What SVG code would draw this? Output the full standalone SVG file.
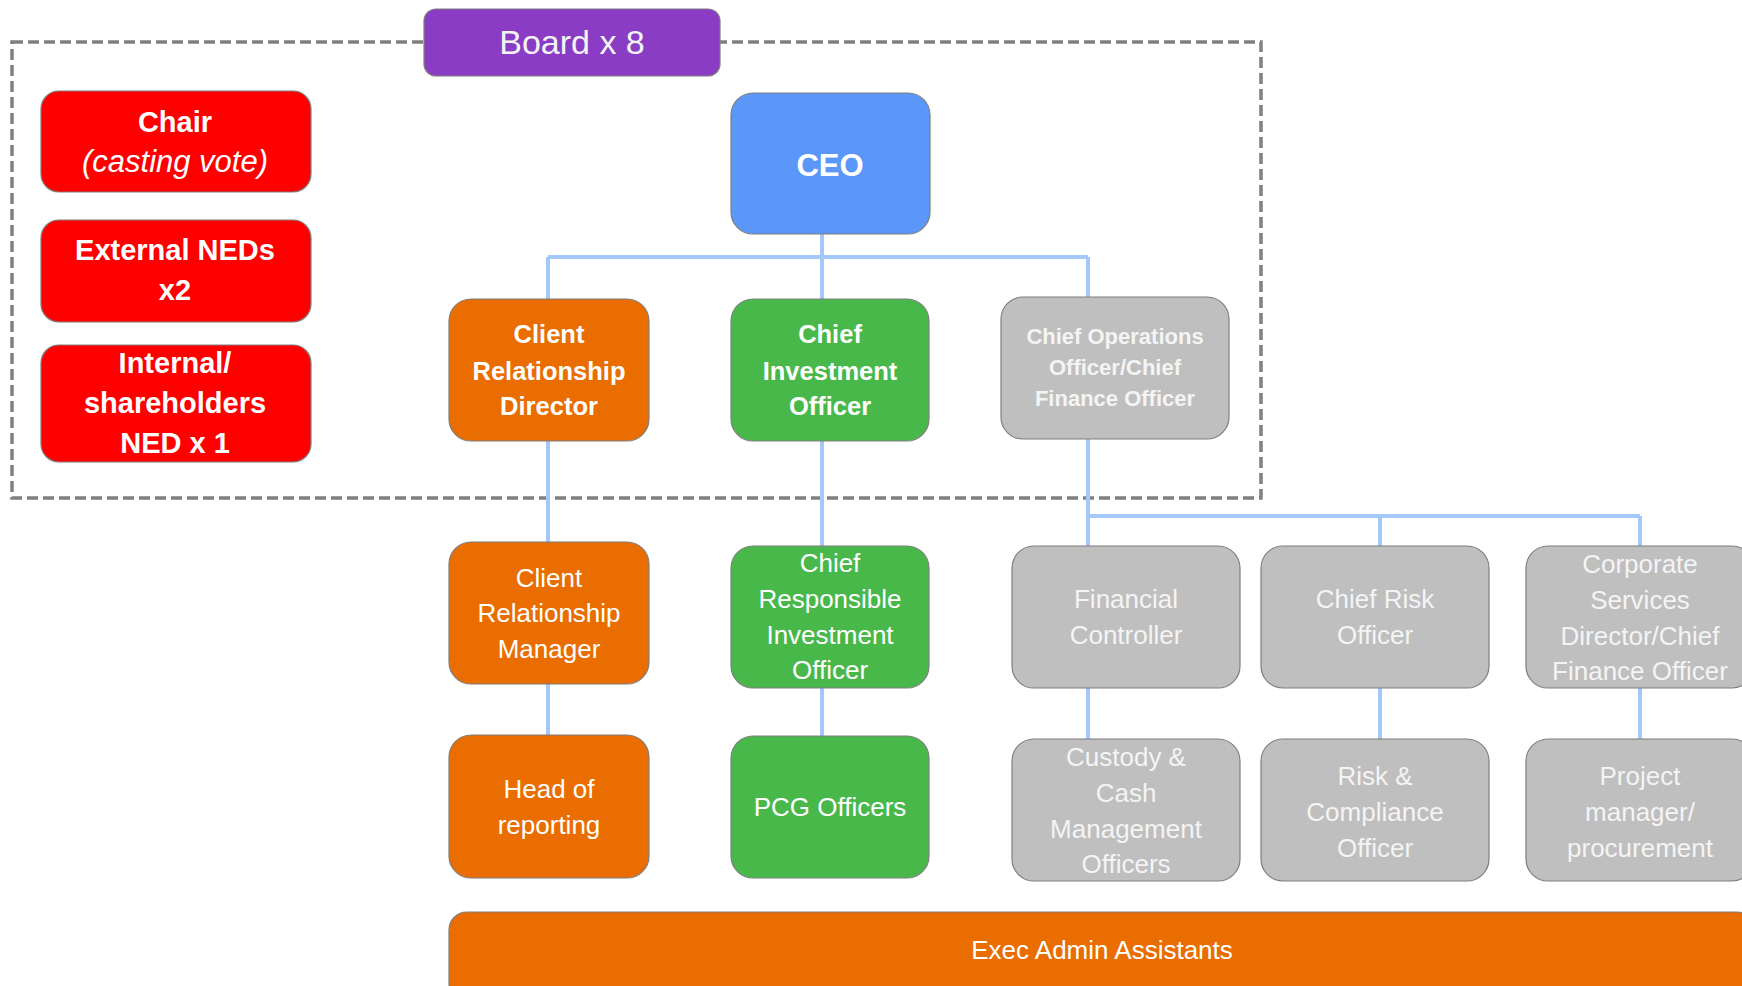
<svg xmlns="http://www.w3.org/2000/svg" width="1742" height="986" viewBox="0 0 1742 986">
<style>
.t{font-family:"Liberation Sans",Arial,sans-serif;text-anchor:middle;fill:#FFFFFF}
.b{font-weight:bold}
.g{fill:#F4F4F4}
.box{stroke:#7F7F7F;stroke-width:1.2}
.red{fill:#FF0000}
.org{fill:#E96D00}
.grn{fill:#48B84A}
.gry{fill:#BFBFBF}
.conn{stroke:#A4C8FA;stroke-width:4;fill:none}
</style>
<rect width="1742" height="986" fill="#FFFFFF"/>
<g id="board-frame">
<rect x="12" y="42" width="1249" height="456" fill="none" stroke="#808080" stroke-width="3.5" stroke-dasharray="11 5"/>
</g>
<g id="connectors">
<path class="conn" d="M822 234V257M548 257H1088M548 257V299M822 257V299M1088 257V297"/>
<path class="conn" d="M548 441V542M822 441V546M1088 439V516H1640M1088 516V546M1380 516V546M1640 516V546"/>
<path class="conn" d="M548 684V735M822 688V736M1088 688V739M1380 688V739M1640 688V739"/>
</g>
<g id="board">
<rect class="box" x="424" y="9" width="296" height="67" rx="12" fill="#8A3CC5"/>
<text class="t g" x="572" y="54" font-size="34">Board x 8</text>
</g>
<g id="chair">
<rect class="box red" x="41" y="91" width="270" height="101" rx="18"/>
<text class="t b" x="175" y="132" font-size="29">Chair</text>
<text class="t" x="175" y="172" font-size="31" font-style="italic">(casting vote)</text>
</g>
<g id="external-neds">
<rect class="box red" x="41" y="220" width="270" height="102" rx="18"/>
<text class="t b" x="175" y="260" font-size="29">External NEDs</text>
<text class="t b" x="175" y="300" font-size="29">x2</text>
</g>
<g id="internal-ned">
<rect class="box red" x="41" y="345" width="270" height="117" rx="18"/>
<text class="t b" x="175" y="373" font-size="29">Internal/</text>
<text class="t b" x="175" y="413" font-size="29">shareholders</text>
<text class="t b" x="175" y="453" font-size="29">NED x 1</text>
</g>
<g id="ceo">
<rect class="box" x="731" y="93" width="199" height="141" rx="22" fill="#5B97F8"/>
<text class="t b" x="830" y="176" font-size="31">CEO</text>
</g>
<g id="crd">
<rect class="box org" x="449" y="299" width="200" height="142" rx="22"/>
<text class="t b" x="549" y="343" font-size="25.5">Client</text>
<text class="t b" x="549" y="380" font-size="25.5">Relationship</text>
<text class="t b" x="549" y="415" font-size="25.5">Director</text>
</g>
<g id="cio">
<rect class="box grn" x="731" y="299" width="198" height="142" rx="22"/>
<text class="t b" x="830" y="343" font-size="25.5">Chief</text>
<text class="t b" x="830" y="380" font-size="25.5">Investment</text>
<text class="t b" x="830" y="415" font-size="25.5">Officer</text>
</g>
<g id="coo">
<rect class="box gry" x="1001" y="297" width="228" height="142" rx="22"/>
<text class="t b g" x="1115" y="344" font-size="22">Chief Operations</text>
<text class="t b g" x="1115" y="375" font-size="22">Officer/Chief</text>
<text class="t b g" x="1115" y="406" font-size="22">Finance Officer</text>
</g>
<g id="crm">
<rect class="box org" x="449" y="542" width="200" height="142" rx="22"/>
<text class="t" x="549" y="587" font-size="26">Client</text>
<text class="t" x="549" y="622" font-size="26">Relationship</text>
<text class="t" x="549" y="658" font-size="26">Manager</text>
</g>
<g id="crio">
<rect class="box grn" x="731" y="546" width="198" height="142" rx="22"/>
<text class="t" x="830" y="572" font-size="26">Chief</text>
<text class="t" x="830" y="608" font-size="26">Responsible</text>
<text class="t" x="830" y="644" font-size="26">Investment</text>
<text class="t" x="830" y="679" font-size="26">Officer</text>
</g>
<g id="fc">
<rect class="box gry" x="1012" y="546" width="228" height="142" rx="22"/>
<text class="t g" x="1126" y="608" font-size="26">Financial</text>
<text class="t g" x="1126" y="644" font-size="26">Controller</text>
</g>
<g id="cro">
<rect class="box gry" x="1261" y="546" width="228" height="142" rx="22"/>
<text class="t g" x="1375" y="608" font-size="26">Chief Risk</text>
<text class="t g" x="1375" y="644" font-size="26">Officer</text>
</g>
<g id="csd">
<rect class="box gry" x="1526" y="546" width="228" height="142" rx="22"/>
<text class="t g" x="1640" y="573" font-size="26">Corporate</text>
<text class="t g" x="1640" y="609" font-size="26">Services</text>
<text class="t g" x="1640" y="645" font-size="26">Director/Chief</text>
<text class="t g" x="1640" y="680" font-size="26">Finance Officer</text>
</g>
<g id="hor">
<rect class="box org" x="449" y="735" width="200" height="143" rx="22"/>
<text class="t" x="549" y="798" font-size="26">Head of</text>
<text class="t" x="549" y="834" font-size="26">reporting</text>
</g>
<g id="pcg">
<rect class="box grn" x="731" y="736" width="198" height="142" rx="22"/>
<text class="t" x="830" y="816" font-size="26">PCG Officers</text>
</g>
<g id="custody">
<rect class="box gry" x="1012" y="739" width="228" height="142" rx="22"/>
<text class="t g" x="1126" y="766" font-size="26">Custody &amp;</text>
<text class="t g" x="1126" y="802" font-size="26">Cash</text>
<text class="t g" x="1126" y="838" font-size="26">Management</text>
<text class="t g" x="1126" y="873" font-size="26">Officers</text>
</g>
<g id="rco">
<rect class="box gry" x="1261" y="739" width="228" height="142" rx="22"/>
<text class="t g" x="1375" y="785" font-size="26">Risk &amp;</text>
<text class="t g" x="1375" y="821" font-size="26">Compliance</text>
<text class="t g" x="1375" y="857" font-size="26">Officer</text>
</g>
<g id="pm">
<rect class="box gry" x="1526" y="739" width="228" height="142" rx="22"/>
<text class="t g" x="1640" y="785" font-size="26">Project</text>
<text class="t g" x="1640" y="821" font-size="26">manager/</text>
<text class="t g" x="1640" y="857" font-size="26">procurement</text>
</g>
<g id="exec-admin">
<rect class="box org" x="449" y="912" width="1306" height="90" rx="18"/>
<text class="t" x="1102" y="959" font-size="26">Exec Admin Assistants</text>
</g>
</svg>
